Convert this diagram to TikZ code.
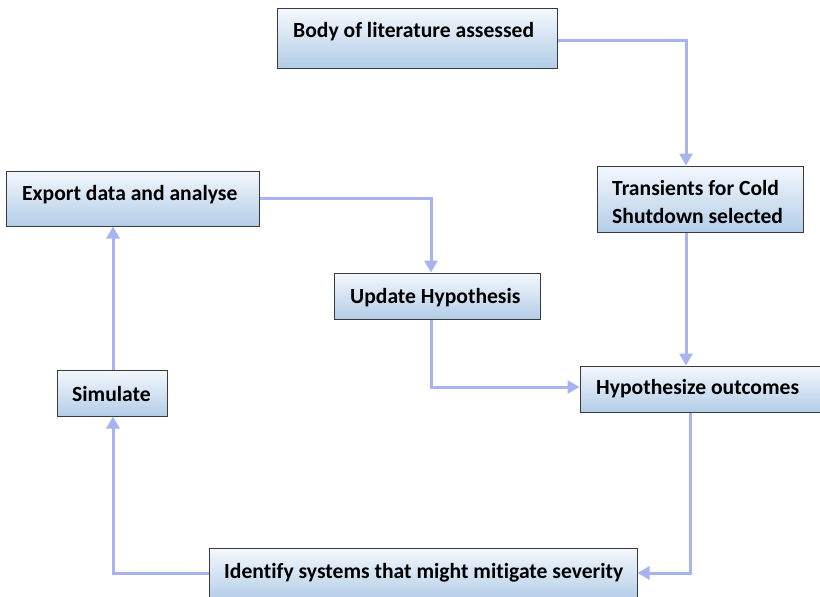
\documentclass[tikz,border=0pt]{standalone}
\usepackage{fontspec}
\setmainfont[Ligatures=NoCommon]{Carlito}
\usetikzlibrary{arrows.meta,calc}
\definecolor{lineblue}{HTML}{A8B4F2}
\definecolor{boxtop}{HTML}{F4F8FD}
\definecolor{boxbot}{HTML}{B3CDE8}
\definecolor{boxedge}{HTML}{3A3A3A}
\begin{document}
\begin{tikzpicture}[x=1pt,y=-1pt,
  box/.style={draw=boxedge,line width=1pt,top color=boxtop,bottom color=boxbot,shading=axis,inner sep=0pt,rectangle},
  txt/.style={font=\bfseries\fontsize{21.6}{28}\selectfont,anchor=west,align=left,inner sep=0pt,text=black},
  conn/.style={draw=lineblue,line width=3pt,-{Triangle[length=12pt,width=13pt]}}]
\useasboundingbox (0,0) rectangle (820,597);
% boxes
\node[box,minimum width=280,minimum height=60] (b1) at (417,38) {};
\node[box,minimum width=206,minimum height=66] (b2) at (700,199) {};
\node[box,minimum width=253,minimum height=55] (b3) at (132.5,198.5) {};
\node[box,minimum width=206,minimum height=46] (b4) at (437,296) {};
\node[box,minimum width=242,minimum height=46] (b5) at (701,389) {};
\node[box,minimum width=110,minimum height=46] (b6) at (112,393) {};
\node[box,minimum width=428,minimum height=52] (b7) at (423,574) {};
% texts
\node[txt] (t1) at (293,32) {Body of literature assessed};
\node[txt] (t2) at (612,202) {Transients for Cold\\Shutdown selected};
\node[txt] (t3) at (22,195) {Export data and analyse};
\node[txt] (t4) at (350,298) {Update Hypothesis};
\node[txt] (t5) at (596,389) {Hypothesize outcomes};
\node[txt] (t6) at (72,394) {Simulate};
\node[txt] (t7) at (224,573) {Identify systems that might mitigate severity};
% connectors
\coordinate (c1) at (686,40);
\draw[conn] (b1.east |- c1) -- (c1) -- (c1 |- b2.north);
\draw[conn] (b2.south -| c1) -- (c1 |- b5.north);
\coordinate (c2) at (690,573);
\draw[conn] (c2 |- b5.south) -- (c2) -- (b7.east |- c2);
\coordinate (c3) at (113,573);
\draw[conn] (b7.west |- c3) -- (c3) -- (c3 |- b6.south);
\draw[conn] (c3 |- b6.north) -- (c3 |- b3.south);
\coordinate (c4) at (431,198);
\draw[conn] (b3.east |- c4) -- (c4) -- (c4 |- b4.north);
\coordinate (c5) at (431,387);
\draw[conn] (c5 |- b4.south) -- (c5) -- (b5.west |- c5);
\end{tikzpicture}
\end{document}
